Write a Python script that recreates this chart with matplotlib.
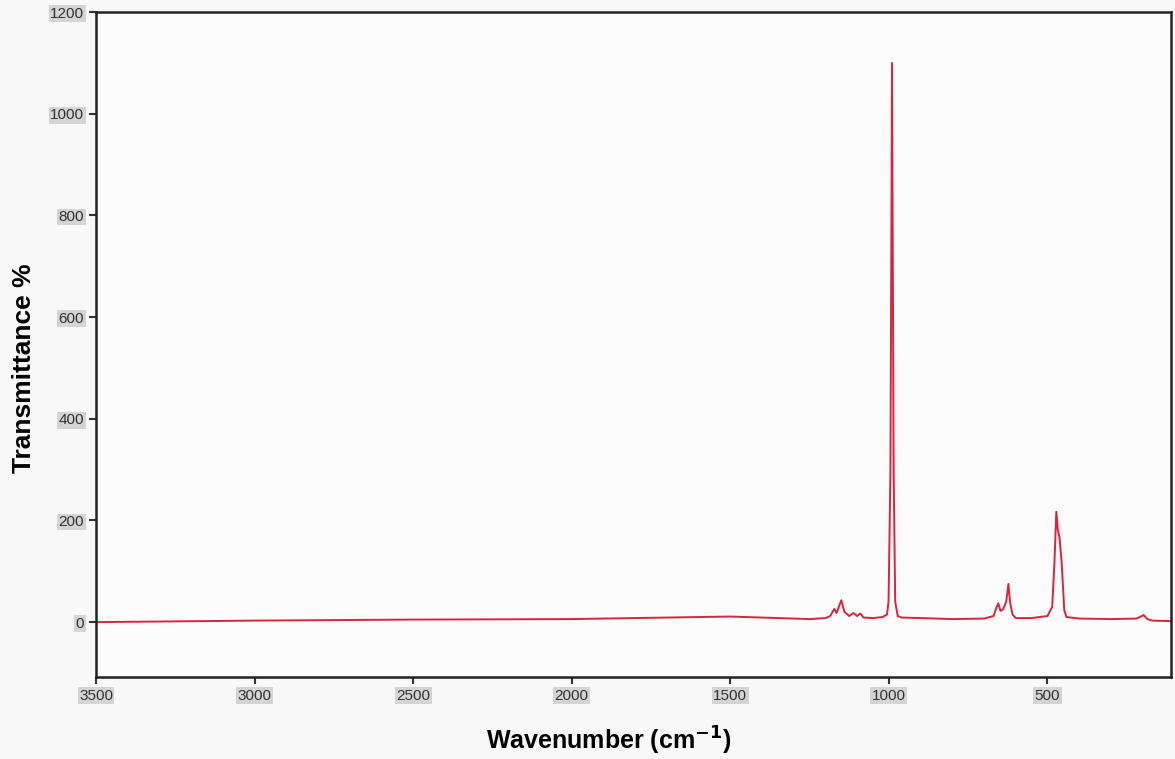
import matplotlib.pyplot as plt

# spectrum points (wavenumber, transmittance)
wavenumber = [3500, 3000, 2500, 2000, 1600, 1500, 1400, 1250, 1200,
              1185, 1172, 1165, 1150, 1140, 1125, 1112, 1100, 1090, 1080,
              1050, 1020, 1006, 1001, 995, 990, 985, 980, 972, 960,
              900, 800, 700, 670, 660, 655, 648, 640, 630, 623, 618, 610,
              600, 550, 500, 485, 478, 472, 467, 462, 455, 447, 440,
              400, 300, 220, 205, 197, 185, 170, 110]
transmittance = [0, 3, 5, 6, 10, 11, 9, 6, 8,
                 12, 26, 18, 43, 20, 12, 18, 12, 17, 9,
                 8, 10, 15, 40, 300, 1100, 300, 40, 12, 9,
                 8, 6, 7, 12, 30, 37, 22, 25, 40, 75, 40, 15,
                 8, 8, 12, 30, 116, 217, 181, 167, 116, 24, 10,
                 7, 6, 7, 11, 14, 6, 3, 2]

x_ticks = [3500, 3000, 2500, 2000, 1500, 1000, 500]
y_ticks = [0, 200, 400, 600, 800, 1000, 1200]

plt.rcParams['font.family'] = ['Liberation Sans', 'DejaVu Sans']

fig = plt.figure(figsize=(11.75, 7.59), dpi=100, facecolor='#f8f8f8')
ax = fig.add_axes([0.0817, 0.108, 0.915, 0.876])
ax.set_facecolor('#fbfbfb')

ax.plot(wavenumber, transmittance, color='#d8243f', linewidth=1.4)

ax.set_xlim(3500, 110)
ax.set_ylim(-108, 1200)
ax.set_xticks(x_ticks)
ax.set_yticks(y_ticks)

for s in ax.spines.values():
    s.set_linewidth(1.8)
    s.set_color('#222222')

ax.tick_params(axis='both', direction='out', length=5, width=1.5,
               labelsize=11, colors='#333333')
for lab in ax.get_xticklabels() + ax.get_yticklabels():
    lab.set_bbox(dict(facecolor='#d4d4d4', edgecolor='none', pad=1.0))

ax.set_xlabel('Wavenumber (cm$^{\\mathbf{-1}}$)', fontsize=18, fontweight='bold')
ax.xaxis.set_label_coords(0.477, -0.072)
ax.set_ylabel('Transmittance %', fontsize=19, fontweight='bold')
ax.yaxis.set_label_coords(-0.056, 0.465)

fig.savefig('out.png', dpi=100, facecolor=fig.get_facecolor())
